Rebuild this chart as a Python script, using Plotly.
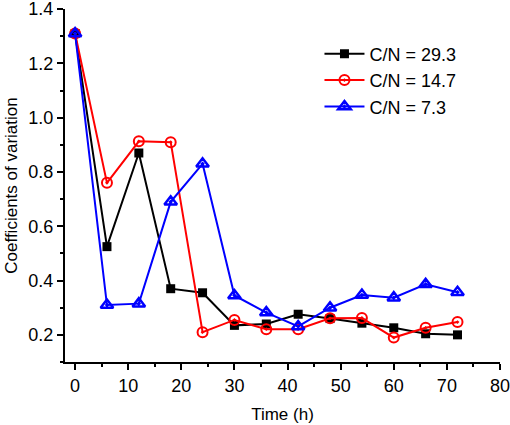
import plotly.graph_objects as go

time_h = [0, 6, 12, 18, 24, 30, 36, 42, 48, 54, 60, 66, 72]
cn_29_3 = [1.31, 0.525, 0.87, 0.37, 0.355, 0.235, 0.24, 0.276, 0.26, 0.243, 0.226, 0.204, 0.20]
cn_14_7 = [1.31, 0.76, 0.913, 0.91, 0.21, 0.255, 0.221, 0.221, 0.261, 0.262, 0.19, 0.226, 0.247]
cn_7_3 = [1.31, 0.31, 0.315, 0.69, 0.83, 0.345, 0.282, 0.231, 0.30, 0.347, 0.337, 0.386, 0.357]

series = [
    ("C/N = 29.3", cn_29_3, "black", "square", 9, 0),
    ("C/N = 14.7", cn_14_7, "red", "circle-open-dot", 10, 2),
    ("C/N = 7.3", cn_7_3, "blue", "triangle-up-open-dot", 11, 2.5),
]

fig = go.Figure()
for name, ys, col, sym, size, lw in series:
    fig.add_trace(go.Scatter(
        x=time_h, y=ys, name=name, mode="lines+markers",
        line=dict(color=col, width=2),
        marker=dict(symbol=sym, size=size, color=col, line=dict(color=col, width=lw)),
        cliponaxis=False,
    ))

font = "Liberation Sans, Arial, sans-serif"
fig.update_layout(
    width=510, height=425,
    margin=dict(l=65, r=10, t=9, b=63, autoexpand=False),
    plot_bgcolor="white", paper_bgcolor="white",
    font=dict(family=font, size=17, color="black"),
    showlegend=True,
    legend=dict(x=0.585, y=0.925, xanchor="left", yanchor="top",
                bgcolor="rgba(0,0,0,0)", font=dict(size=18), tracegroupgap=0,
                itemwidth=40),
    xaxis=dict(range=[-1.9, 80], tickvals=[0, 10, 20, 30, 40, 50, 60, 70, 80],
               automargin=False, ticklabeloverflow="allow",
               showgrid=False, zeroline=False, showline=True, linecolor="black", linewidth=2,
               ticks="outside", ticklen=6, tickwidth=2, tickcolor="black",
               minor=dict(tickvals=[5, 15, 25, 35, 45, 55, 65, 75], ticks="outside", ticklen=3,
                          tickwidth=2, tickcolor="black", showgrid=False),
               title=dict(text="Time (h)", font=dict(size=17), standoff=14),
               tickfont=dict(size=18)),
    yaxis=dict(range=[0.1, 1.4005], tickvals=[0.2, 0.4, 0.6, 0.8, 1.0, 1.2, 1.4],
               ticktext=["0.2", "0.4", "0.6", "0.8", "1.0", "1.2", "1.4"],
               automargin=False, ticklabeloverflow="allow",
               showgrid=False, zeroline=False, showline=True, linecolor="black", linewidth=2,
               ticks="outside", ticklen=6, tickwidth=2, tickcolor="black",
               minor=dict(tickvals=[0.1, 0.3, 0.5, 0.7, 0.9, 1.1, 1.3], ticks="outside", ticklen=3,
                          tickwidth=2, tickcolor="black", showgrid=False),
               title=dict(text="Coefficients of variation", font=dict(size=17), standoff=6),
               tickfont=dict(size=18)),
)

fig.write_html("out.html", config={"displayModeBar": False},
               post_script="document.body.style.margin='0';document.body.style.overflow='hidden';")
